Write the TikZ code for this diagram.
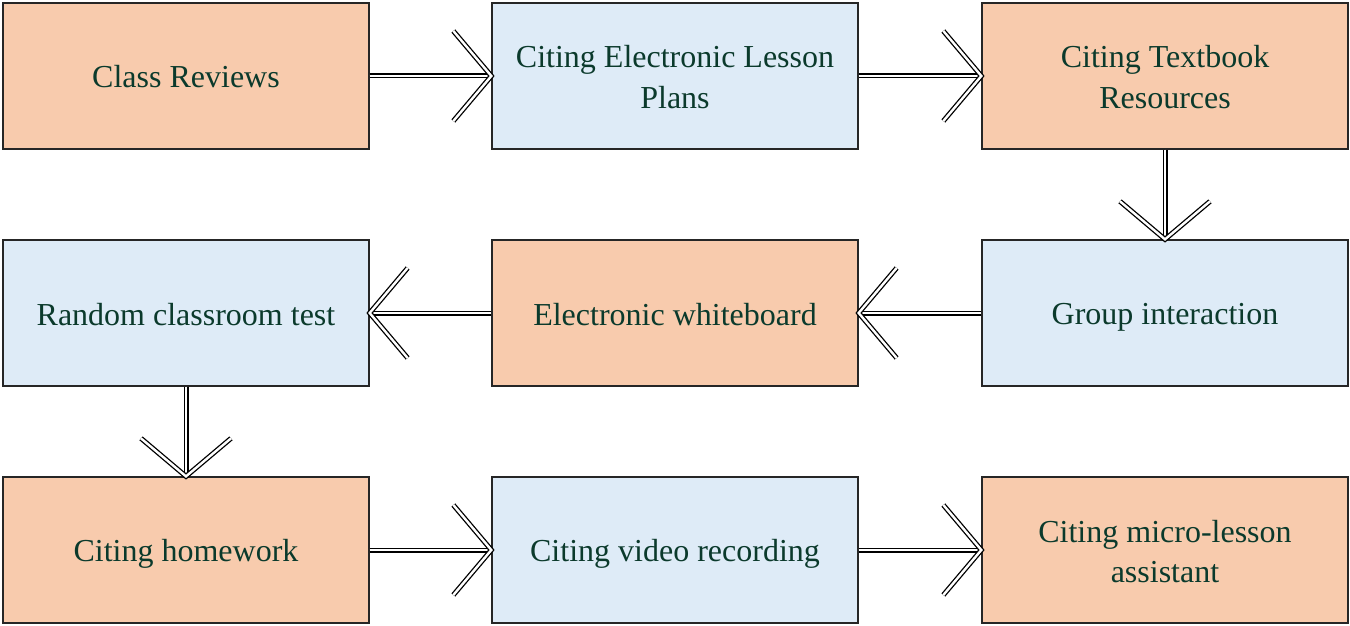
\documentclass[tikz,border=0pt]{standalone}
\usepackage{fontspec}
\setmainfont{Liberation Serif}
\definecolor{boxor}{HTML}{F8CBAD}
\definecolor{boxbl}{HTML}{DEEBF7}
\definecolor{txt}{HTML}{0B3A2C}
\newcommand\mystrut{\rule[-6pt]{0pt}{36pt}}
\begin{document}
\begin{tikzpicture}[x=1pt,y=-1pt,
  box/.style={draw=black!85,line width=1.3pt,minimum width=366pt,minimum height=146pt,
    align=center,text=txt,font=\fontsize{32}{40}\selectfont,inner sep=0pt},
  ob/.style={box,fill=boxor},
  bb/.style={box,fill=boxbl},
  conn/.style={draw=black,double=white,double distance=2.4pt,line width=1.3pt,line join=miter,miter limit=20}]
\useasboundingbox (0,0) rectangle (1350,626);
\node[ob] (a1) at (186,76) {\mystrut Class Reviews\mystrut};
\node[bb] (a2) at (675,76) {\mystrut Citing Electronic Lesson\\Plans\mystrut};
\node[ob] (a3) at (1165,76) {\mystrut Citing Textbook\\Resources\mystrut};
\node[bb] (b1) at (186,313) {\mystrut Random classroom test\mystrut};
\node[ob] (b2) at (675,313) {\mystrut Electronic whiteboard\mystrut};
\node[bb] (b3) at (1165,313) {\mystrut Group interaction\mystrut};
\node[ob] (c1) at (186,550) {\mystrut Citing homework\mystrut};
\node[bb] (c2) at (675,550) {\mystrut Citing video recording\mystrut};
\node[ob] (c3) at (1165,550) {\mystrut Citing micro-lesson\\assistant\mystrut};
% right arrows
\foreach \s/\t in {a1/a2,a2/a3,c1/c2,c2/c3}{
  \draw[conn] (\s.east) -- (\t.west);
  \draw[conn] ([shift={(-38,-45)}]\t.west) -- (\t.west) -- ([shift={(-38,45)}]\t.west);
}
% left arrows
\foreach \s/\t in {b3/b2,b2/b1}{
  \draw[conn] (\s.west) -- (\t.east);
  \draw[conn] ([shift={(38,-45)}]\t.east) -- (\t.east) -- ([shift={(38,45)}]\t.east);
}
% down arrows
\foreach \s/\t in {a3/b3,b1/c1}{
  \draw[conn] (\s.south) -- (\t.north);
  \draw[conn] ([shift={(-45,-38)}]\t.north) -- (\t.north) -- ([shift={(45,-38)}]\t.north);
}
\end{tikzpicture}
\end{document}
